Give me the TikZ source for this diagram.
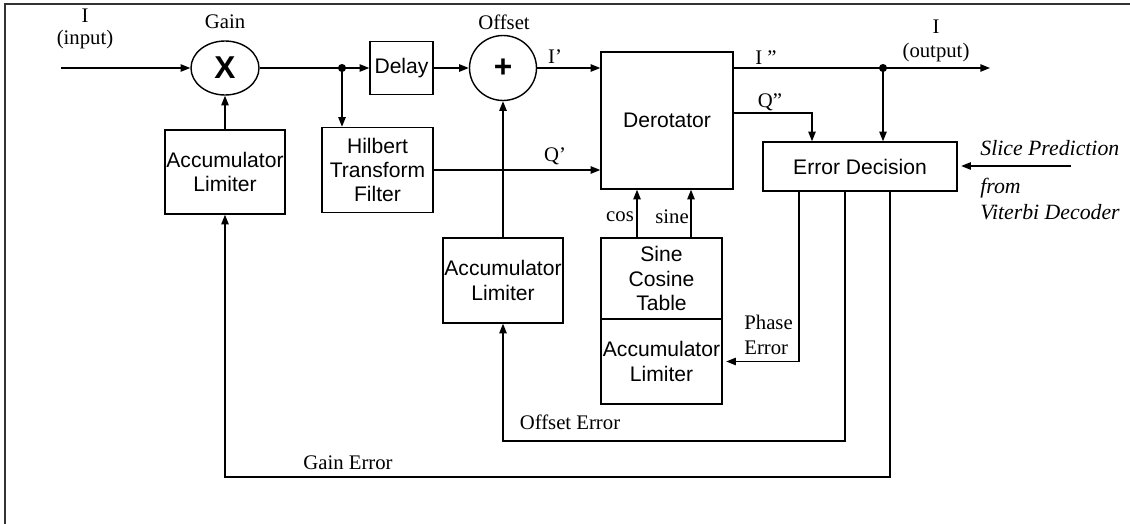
\documentclass[tikz,border=0pt]{standalone}
\usepackage{fontspec}
\setmainfont{Liberation Serif}
\setsansfont{Liberation Sans}
\usetikzlibrary{arrows.meta}
\usetikzlibrary{shapes.geometric,positioning}

\tikzset{
  blk/.style={draw, line width=0.8pt, align=center, inner sep=0pt,
    font=\sffamily\fontsize{12}{13.8}\selectfont},
  sum/.style={draw, ellipse, line width=0.8pt, inner sep=0pt,
    font=\sffamily\bfseries\fontsize{18}{18}\selectfont},
  lbl/.style={inner sep=0pt, align=center, font=\fontsize{11.8}{12.5}\selectfont},
  ilbl/.style={inner sep=0pt, anchor=west, font=\itshape\fontsize{12.4}{13}\selectfont},
  sig/.style={line width=0.8pt, -{Triangle[length=5.5pt,width=4.2pt]}},
  wire/.style={line width=0.8pt},
}

\begin{document}
\begin{tikzpicture}[x=0.02cm,y=-0.02cm]
\useasboundingbox (0,0) rectangle (1130,524);
\draw[line width=1.3pt, black!80] (5,524) -- (5,4) -- (1130,4);

% forward path
\node[sum, minimum width=1.36cm, minimum height=1.08cm] (gain) at (225,68) {X};
\node[blk, minimum width=1.26cm, minimum height=1.06cm] (delay) at (401.5,68) {Delay};
\node[sum, minimum width=1.34cm, minimum height=1.3cm] (offs) at (503,68) {+};
\node[blk, minimum width=2.22cm, minimum height=1.7cm] (hilb) at (377.5,170) {Hilbert\\Transform\\Filter};
\node[blk, minimum width=2.64cm, minimum height=2.74cm] (derot) at (667,120.5) {Derotator};
\node[blk, minimum width=3.88cm, minimum height=0.98cm] (errdec) at (860,166.5) {Error Decision};

% loop blocks
\node[blk, minimum width=2.4cm, minimum height=1.68cm] (gacc) at (225,172) {Accumulator\\Limiter};
\node[blk, minimum width=2.4cm, minimum height=1.7cm] (oacc) at (503,280.5) {Accumulator\\Limiter};
\node[blk, minimum width=2.42cm, minimum height=1.62cm] (sincos) at (661.5,278.5) {Sine\\Cosine\\Table};
\node[blk, minimum width=2.42cm, minimum height=1.7cm] (pacc) at (661.5,361.5) {Accumulator\\Limiter};

\coordinate (in) at (61,68);
\coordinate (split) at (342,68);
\coordinate (tap) at (883,68);
\coordinate (out) at (990,68);
\coordinate (slice) at (1071,166);
\coordinate (qy) at (0,113);
\coordinate (qx) at (812,0);
\coordinate (cosx) at (637,0);
\coordinate (sinx) at (691,0);
\coordinate (phx) at (799,0);
\coordinate (ofx) at (845,0);
\coordinate (ofy) at (0,441);
\coordinate (gnx) at (890,0);
\coordinate (gny) at (0,477);

\draw[sig] (in) -- (gain.west);
\draw[wire] (gain.east) -- (split);
\draw[sig] (split) -- (delay.west);
\draw[sig] (split) -- (split |- hilb.north);
\draw[sig] (delay.east) -- (offs.west);
\draw[sig] (offs.east) -- (offs.east -| derot.west);
\draw[sig] (hilb.east) -- (hilb.east -| derot.west);
\draw[sig] (gacc.north) -- (gain.south);
\draw[sig] (oacc.north) -- (offs.south);
\draw[sig] (sincos.north -| cosx) -- (derot.south -| cosx);
\draw[sig] (sincos.north -| sinx) -- (derot.south -| sinx);

\draw[sig] (derot.east |- tap) -- (out);
\fill (split) circle (2.3pt) (tap) circle (2.3pt);
\draw[sig] (tap) -- (tap |- errdec.north);
\draw[sig] (derot.east |- qy) -| (qx |- errdec.north);
\draw[sig, shorten >=2pt] (slice) -- (errdec.east |- slice);

% error feedback
\draw[sig, shorten >=2pt] (errdec.south -| phx) |- (pacc.east);
\draw[sig] (errdec.south -| ofx) -- (ofx |- ofy) -| (oacc.south);
\draw[sig] (errdec.south -| gnx) -- (gnx |- gny) -| (gacc.south);

% labels
\node[lbl] (inlbl) at (85,29) {I\\(input)};
\node[lbl] (gainlbl) at (225,22) {Gain};
\node[lbl] (offslbl) at (504,22) {Offset};
\node[lbl] (ip) at (555,57) {I’};
\node[lbl] (qp) at (555,156) {Q’};
\node[lbl] (ipp) at (766,58) {I ”};
\node[lbl] (qpp) at (770,102) {Q”};
\node[lbl] (outlbl) at (936,41) {I\\[1.5pt](output)};
\node[lbl] (coslbl) at (620,217) {cos};
\node[lbl] (sinlbl) at (672,217) {sine};
\node[lbl, anchor=west, align=left] (phlbl) at (744,335) {Phase\\[1.5pt]Error};
\node[lbl] (oflbl) at (570,422) {Offset Error};
\node[lbl] (gnlbl) at (348,463) {Gain Error};
\node[ilbl] (sl1) at (980,148) {Slice Prediction};
\node[ilbl] (sl2) at (980,188) {from};
\node[ilbl] (sl3) at (980,212) {Viterbi Decoder};
\end{tikzpicture}
\end{document}
